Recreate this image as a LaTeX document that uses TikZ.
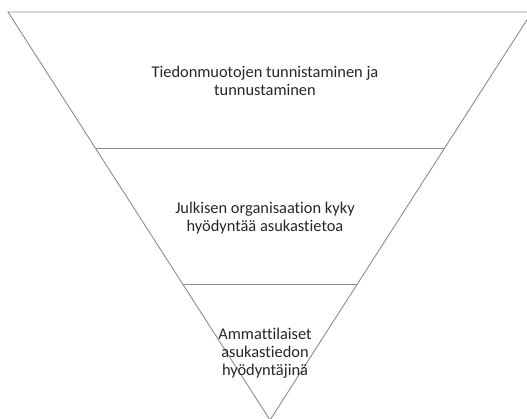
\documentclass[tikz,border=0pt]{standalone}
\usepackage{fontspec}
\setmainfont[Ligatures=NoCommon]{Carlito}
\usetikzlibrary{calc}
\definecolor{edge}{HTML}{8C8C8C}
\definecolor{txt}{HTML}{262626}
\begin{document}
\begin{tikzpicture}[x=1pt,y=-1pt,
  level/.style={draw=edge,line width=0.9pt},
  label/.style={text=txt,align=center,inner sep=0pt,font=\fontsize{16.4}{18}\selectfont}]
\useasboundingbox (0,0) rectangle (527,419);
\clip (0,0) rectangle (527,419);
\coordinate (TL) at (8,12);
\coordinate (TR) at (532,12);
\coordinate (A) at (270,420);
\draw[level,line join=miter] (TL) -- (TR) -- (A) -- cycle;
\coordinate (L1) at ($(TL)!1/3!(A)$);
\coordinate (R1) at ($(TR)!1/3!(A)$);
\coordinate (L2) at ($(TL)!2/3!(A)$);
\coordinate (R2) at ($(TR)!2/3!(A)$);
\draw[level] (L1) -- (R1);
\draw[level] (L2) -- (R2);
\node[label,anchor=base] (t1) at (265,96) {Tiedonmuotojen tunnistaminen ja\\tunnustaminen};
\node[label,anchor=base] (t2) at (265,232) {Julkisen organisaation kyky\\hyödyntää asukastietoa};
\node[label,anchor=base] (t3) at (265,375) {Ammattilaiset\\asukastiedon\\hyödyntäjinä};
\end{tikzpicture}
\end{document}
